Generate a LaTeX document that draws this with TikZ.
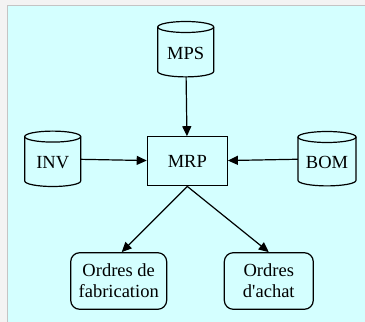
\documentclass[tikz,border=0pt]{standalone}
\usepackage{fontspec}
\setmainfont{Liberation Serif}
\usetikzlibrary{arrows.meta}
\definecolor{pagegray}{RGB}{243,243,243}
\definecolor{framegray}{RGB}{196,196,196}
\definecolor{panelcyan}{RGB}{212,255,255}
\tikzset{
  every node/.style={font=\fontsize{18.5}{21}\selectfont, inner sep=0pt},
  line/.style={line width=1.2pt, draw=black},
  flow/.style={line, -{Triangle[length=10pt,width=9pt]}},
  process/.style={line, rectangle, minimum width=80pt, minimum height=49pt},
  output/.style={line, rectangle, rounded corners=9pt, align=center,
                 minimum height=56.6pt},
  store/.style={rectangle, minimum width=56pt, minimum height=55pt},
}
% cylinder outline around a named store node: #1 = node, #2 = half width
\newcommand{\storeoutline}[2]{%
  \draw[line] ([yshift=-5.5pt]#1.north) ellipse ({#2} and 5.5pt);
  \draw[line] ([xshift=-#2,yshift=-5.5pt]#1.north)
    -- ([xshift=-#2,yshift=5.5pt]#1.south)
    arc[start angle=180, end angle=360, x radius=#2, y radius=5.5pt]
    -- ([xshift=#2,yshift=-5.5pt]#1.north);
}
\begin{document}
\begin{tikzpicture}[x=1pt,y=1pt]
  \useasboundingbox (0,0) rectangle (365,322);
  % page and panel
  \fill[pagegray] (0,0) rectangle (365,322);
  \fill[panelcyan] (7,0) rectangle (365,316);
  \draw[framegray, line width=1pt] (7,0) -- (7,316) -- (365,316);

  % data stores
  \node[store] (mps) at (185.7,272.8) {};
  \node[store] (inv) at (52.7,163.2) {};
  \node[store, minimum width=58pt, minimum height=54pt] (bom) at (327,163.3) {};
  \storeoutline{mps}{28pt}
  \storeoutline{inv}{28pt}
  \storeoutline{bom}{29pt}
  \node (mps-label) at ([yshift=-4pt]mps.center) {MPS};
  \node (inv-label) at ([yshift=-4pt]inv.center) {INV};
  \node (bom-label) at ([yshift=-4pt]bom.center) {BOM};

  % planning process
  \node[process] (mrp) at (187.3,160.7) {MRP};

  % resulting orders
  \node[output, minimum width=96pt] (fab) at (118.7,41) {Ordres de\\fabrication};
  \node[output, minimum width=89pt] (achat) at (268.8,41) {Ordres\\d\textquotesingle achat};

  % flows
  \draw[flow] (mps) -- (mrp);
  \draw[flow] (inv) -- (mrp);
  \draw[flow] (bom) -- (mrp);
  \draw[flow] (mrp.south) -- ([xshift=3pt]fab.north);
  \draw[flow] (mrp.south) -- (achat.north);
\end{tikzpicture}
\end{document}
